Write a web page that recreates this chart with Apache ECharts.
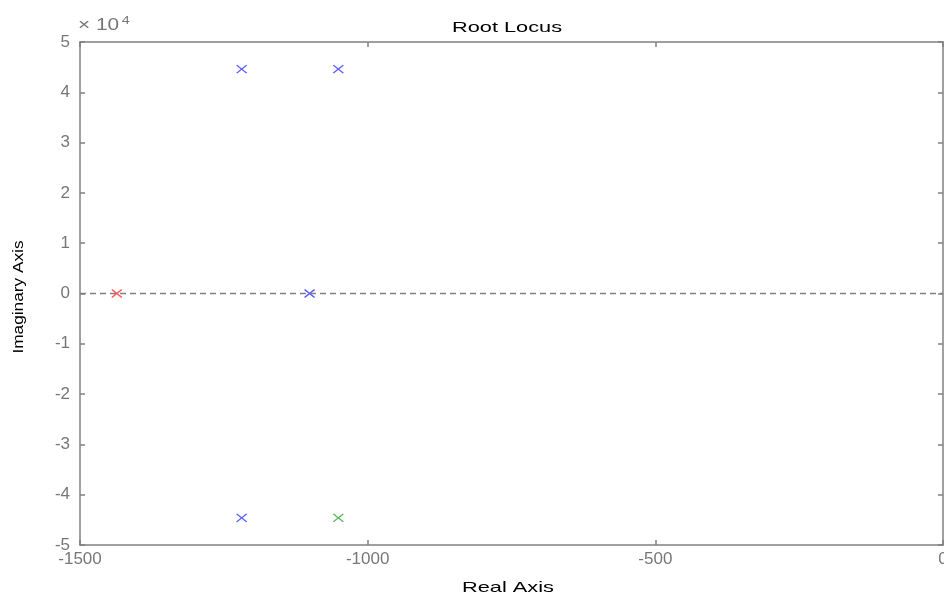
<!DOCTYPE html>
<html>
<head>
<meta charset="utf-8">
<script src="https://cdn.jsdelivr.net/npm/echarts@6/dist/echarts.min.js"></script>
<style>
  html, body { margin: 0; padding: 0; background: #fff; }
  #main { width: 944px; height: 601px; }
</style>
</head>
<body>
<div id="main"></div>
<script>
// poles of the root locus, [real, imaginary]
var redPoles = [[-1436, 0]];
var bluePoles = [[-1219, 44600], [-1051, 44600], [-1101, 0], [-1219, -44600]];
var greenPoles = [[-1051, -44600]];

var xTicks = { min: -1500, max: 0, step: 500 };
var yTicks = { min: -50000, max: 50000, step: 10000 };

var axisGray = '#808080';
var font = 'Liberation Sans, Arial, sans-serif';
var crossMark = 'path://M0,0L10,8M10,0L0,8';

var myChart = echarts.init(document.getElementById('main'));

function poleSeries(name, data, color) {
    return {
        name: name,
        type: 'scatter',
        data: data,
        symbol: crossMark,
        symbolSize: [10, 8],
        itemStyle: { color: 'transparent', borderColor: color, borderWidth: 1.3 },
        silent: true
    };
}

// axes: bottom/left carry labels, top/right just mirror the ticks (matlab box)
function xAxisDef(pos, labels) {
    return {
        type: 'value', position: pos, gridIndex: 0,
        min: xTicks.min, max: xTicks.max, interval: xTicks.step,
        axisLine: { show: true, onZero: false, lineStyle: { color: axisGray, width: 1.5 } },
        axisTick: { show: true, inside: true, length: 5, lineStyle: { color: axisGray, width: 1.5 } },
        axisLabel: {
            show: labels, color: '#777', fontFamily: font, fontSize: 17, margin: 6,
            formatter: function (v) { return String(v); }
        },
        splitLine: { show: false }
    };
}
function yAxisDef(pos, labels) {
    return {
        type: 'value', position: pos, gridIndex: 0,
        min: yTicks.min, max: yTicks.max, interval: yTicks.step,
        axisLine: { show: true, onZero: false, lineStyle: { color: axisGray, width: 1.5 } },
        axisTick: { show: true, inside: true, length: 5, lineStyle: { color: axisGray, width: 1.5 } },
        axisLabel: {
            show: labels, color: '#777', fontFamily: font, fontSize: 17, margin: 10,
            formatter: function (v) { return String(v / 10000); }
        },
        splitLine: { show: false }
    };
}

var option = {
    animation: false,
    backgroundColor: '#fff',
    grid: { left: 80, right: 1, top: 42, bottom: 56, outerBoundsMode: 'none' },
    xAxis: [xAxisDef('bottom', true), xAxisDef('top', false)],
    yAxis: [yAxisDef('left', true), yAxisDef('right', false)],
    graphic: [
        {   // title, the matlab export is stretched sideways
            type: 'text', x: 507, y: 28, scaleX: 1.45,
            style: { text: 'Root Locus', fontFamily: font, fontSize: 15, fill: '#000', align: 'center', verticalAlign: 'middle' }
        },
        {   // y-axis exponent
            type: 'text', x: 78, y: 26, scaleX: 1.3,
            style: {
                text: '{a|× 10}{b|4}',
                verticalAlign: 'middle',
                rich: {
                    a: { fontFamily: font, fontSize: 16, fill: '#777', color: '#777' },
                    b: { fontFamily: font, fontSize: 11, fill: '#777', color: '#777', verticalAlign: 'top', padding: [0, 0, 10, 2] }
                }
            }
        },
        {
            type: 'text', x: 508, y: 588, scaleX: 1.45,
            style: { text: 'Real Axis', fontFamily: font, fontSize: 15, fill: '#000', align: 'center', verticalAlign: 'middle' }
        },
        {
            type: 'text', x: 19, y: 297, rotation: Math.PI / 2, scaleX: 1.15,
            style: { text: 'Imaginary Axis', fontFamily: font, fontSize: 15, fill: '#000', align: 'center', verticalAlign: 'middle' }
        }
    ],
    series: [
        Object.assign(poleSeries('red', redPoles, '#ff3030'), {
            markLine: {
                silent: true,
                symbol: ['none', 'none'],
                label: { show: false },
                lineStyle: { color: axisGray, type: [6, 4], width: 1.3 },
                data: [{ yAxis: 0 }]
            }
        }),
        poleSeries('blue', bluePoles, '#3030ff'),
        poleSeries('green', greenPoles, '#30a030')
    ]
};

myChart.setOption(option);
</script>
</body>
</html>
